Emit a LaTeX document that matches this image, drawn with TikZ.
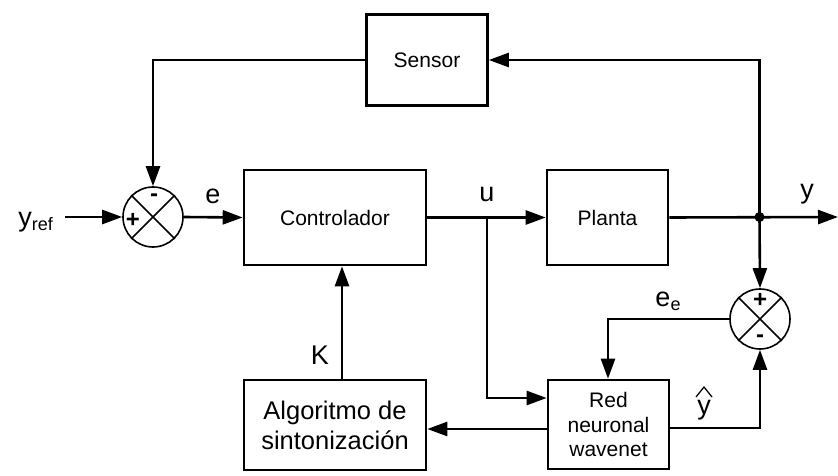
\documentclass[tikz,border=0pt]{standalone}
\usepackage{fontspec}
\setmainfont{Liberation Sans}
\usetikzlibrary{arrows.meta,calc}

\newcommand{\smallfont}{\fontsize{21}{24.5}\selectfont}
\newcommand{\bigfont}{\fontsize{25.5}{30}\selectfont}
\newcommand{\labelfont}{\fontsize{27}{30}\selectfont}
\newcommand{\subfont}{\fontsize{18}{18}\selectfont}

\tikzset{
  blockbox/.style={draw, line width=2.6pt, inner sep=0pt, align=center},
  sumjunction/.style={draw, circle, line width=1.6pt, minimum size=60pt, inner sep=0pt},
  sig/.style={line width=2.6pt, -{Triangle[length=20pt,width=14pt]}},
  lbl/.style={inner sep=0pt, font=\labelfont},
  signmark/.style={inner sep=0pt, font=\fontsize{24}{24}\selectfont\bfseries}
}

\begin{document}
\begin{tikzpicture}[x=1pt, y=-1pt]
\useasboundingbox (0,0) rectangle (838,476);

% blocks
\node[blockbox, minimum width=121pt, minimum height=91pt, font=\smallfont] (sensor) at (427,60) {Sensor};
\node[blockbox, minimum width=182pt, minimum height=95pt, font=\smallfont] (ctrl) at (335,217.5) {Controlador};
\node[blockbox, minimum width=121pt, minimum height=95pt, font=\smallfont] (plant) at (607.5,217.5) {Planta};
\node[blockbox, minimum width=182pt, minimum height=90pt, font=\bigfont] (algo) at (335,425) {Algoritmo de\\sintonización};
\node[blockbox, minimum width=121pt, minimum height=89pt, font=\smallfont] (red) at (608.5,424.5) {Red\\neuronal\\wavenet};

% summing junctions
\node[sumjunction] (s1) at (153,217) {};
\draw[line width=1.6pt] (s1.north west) -- (s1.south east) (s1.north east) -- (s1.south west);
\node[signmark] (s1p) at (133,220) {+};
\node[signmark] (s1m) at (154,198) {-};

\node[sumjunction] (s2) at (760,319) {};
\draw[line width=1.6pt] (s2.north west) -- (s2.south east) (s2.north east) -- (s2.south west);
\node[signmark] (s2p) at (760,300) {+};
\node[signmark] (s2m) at (760,339) {-};

% free ends and branch points
\coordinate (yin) at (65,217);
\coordinate (yout) at (838,217);
\coordinate (ubr) at (487,217);
\node[circle, fill, minimum size=10pt, inner sep=0pt] (ybr) at (759.5,217) {};

% labels
\node[lbl, anchor=east] (yref) at (53,222) {y\raisebox{-0.3ex}{\subfont ref}};
\node[lbl] (elbl) at (213,196) {e};
\node[lbl] (ulbl) at (487,194) {u};
\node[lbl] (ylbl) at (807,194) {y};
\node[lbl] (klbl) at (320,355) {K};
\node[lbl] (eelbl) at (668,301) {e\raisebox{-0.3ex}{\subfont e}};
\node[lbl] (yhat) at (704,410) {y};
\draw[line width=1.3pt] (696,397) -- (704,387) -- (712,397);

% forward path
\draw[sig] (yin) -- (s1.west);
\draw[sig] (s1.east) -- (ctrl.west);
\draw[sig] (ctrl.east) -- (plant.west);
\draw[sig] (plant.east) -- (yout);

% sensor feedback
\draw[sig] (ybr.center) |- (sensor.east);
\draw[sig] (sensor.west) -| (s1.north);

% identification loop
\draw[sig] (ybr.center) -- (s2.north);
\draw[sig] (ubr) |- ([yshift=26.5]red.west);
\draw[sig] (s2.west) -| ([xshift=-0.5]red.north);
\draw[sig] ([yshift=-3.5]red.east) -| (s2.south);
\draw[sig] ([yshift=-4.5]red.west) -- ([yshift=-4]algo.east);
\draw[sig] ([xshift=7]algo.north) -- ([xshift=7]ctrl.south);
\end{tikzpicture}
\end{document}
